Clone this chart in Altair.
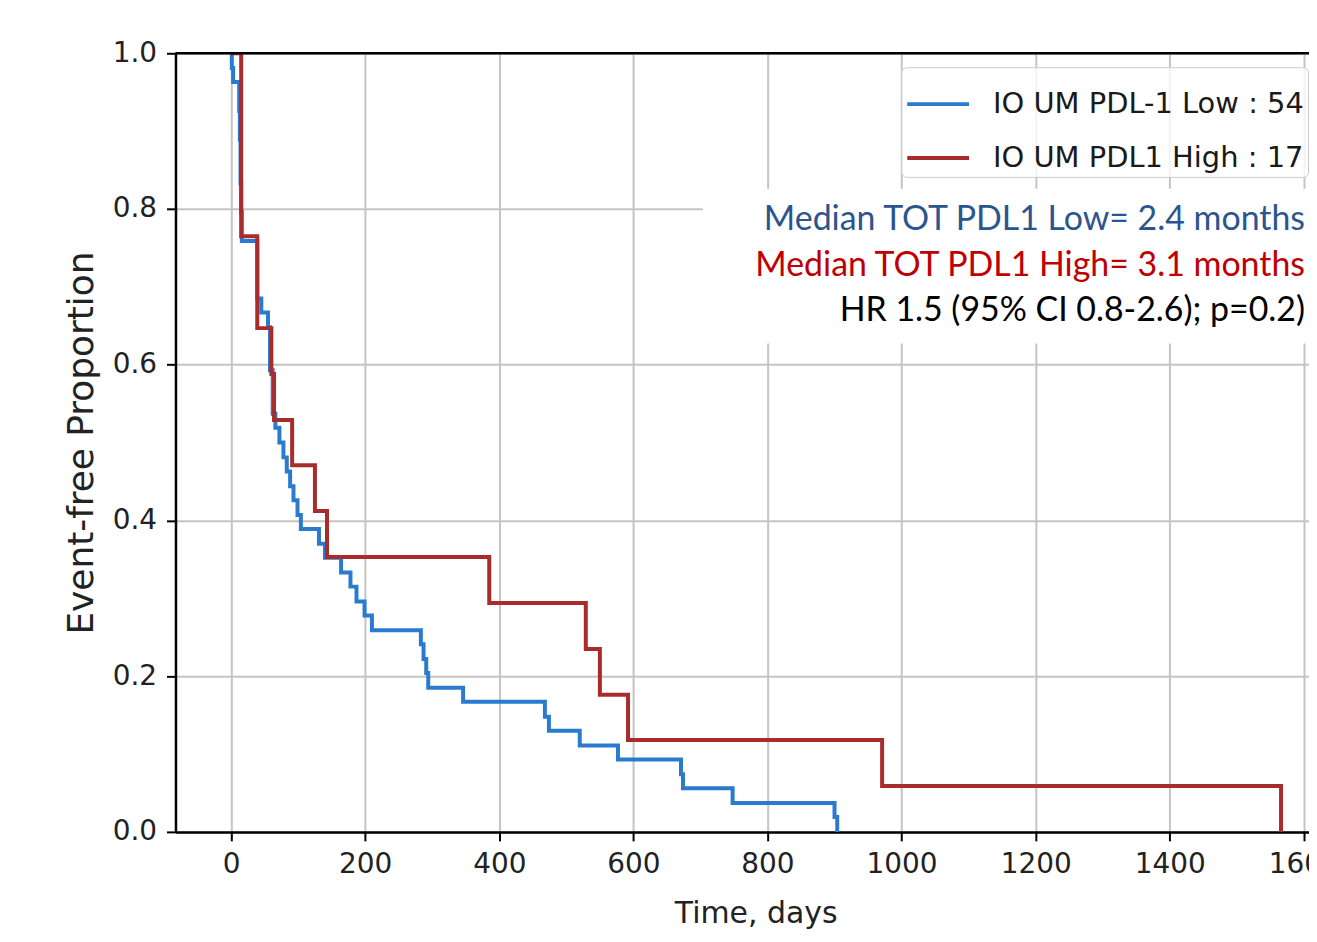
import altair as alt
import pandas as pd

LOW = "IO UM PDL-1 Low : 54"
HIGH = "IO UM PDL1 High : 17"

low_days = [0, 1, 3, 12, 13, 14, 15, 16, 39, 45, 55, 58, 62, 66, 72, 78, 83, 88, 93, 99, 104,
            131, 140, 164, 178, 187, 199, 210, 283, 287, 291, 294, 346, 468, 474, 520, 577,
            671, 674, 748, 900, 904]
low_surv = [1.000, 0.981, 0.963, 0.926, 0.889, 0.833, 0.796, 0.759, 0.685, 0.667, 0.648, 0.593,
            0.537, 0.519, 0.500, 0.481, 0.463, 0.444, 0.426, 0.407, 0.389, 0.370, 0.352, 0.333,
            0.315, 0.296, 0.278, 0.259, 0.241, 0.222, 0.204, 0.185, 0.167, 0.148, 0.130, 0.111,
            0.093, 0.074, 0.056, 0.037, 0.019, 0.000]

high_days = [0, 15, 39, 60, 64, 91, 125, 143, 385, 529, 550, 592, 971, 1566]
high_surv = [1.000, 0.765, 0.647, 0.588, 0.529, 0.471, 0.412, 0.353, 0.294, 0.235, 0.176,
             0.118, 0.059, 0.000]

x_ticks = [0, 200, 400, 600, 800, 1000, 1200, 1400, 1600]
y_ticks = [0.0, 0.2, 0.4, 0.6, 0.8, 1.0]

note_lines = ["Median TOT PDL1 Low= 2.4 months",
              "Median TOT PDL1 High= 3.1 months",
              "HR 1.5 (95% CI 0.8-2.6); p=0.2)"]
note_colors = ["#2c5590", "#c00000", "#000000"]
note_y = [167, 213, 259]

df = pd.concat([
    pd.DataFrame({"day": low_days, "surv": low_surv, "group": LOW}),
    pd.DataFrame({"day": high_days, "surv": high_surv, "group": HIGH}),
], ignore_index=True)

W, H = 1137, 781
xscale = alt.Scale(domain=[-83, 1607.7], nice=False, zero=False)
yscale = alt.Scale(domain=[0, 1], nice=False, zero=False)
color = alt.Color("group:N",
                  scale=alt.Scale(domain=[LOW, HIGH], range=["#2a7bcf", "#a82c2c"]),
                  legend=alt.Legend(title=None))

x_enc = alt.X("day:Q", scale=xscale,
              axis=alt.Axis(values=x_ticks, format="d", title="Time, days",
                            labelPadding=10, titleFontSize=30, titlePadding=20, titleX=582))
y_enc = alt.Y("surv:Q", scale=yscale,
              axis=alt.Axis(values=y_ticks, format=".1f", title="Event-free Proportion",
                            labelPadding=10, titleFontSize=36, titlePadding=12))

base = alt.Chart(df)
low_line = base.transform_filter(alt.datum.group == LOW).mark_line(
    interpolate="step-after", strokeWidth=4, clip=True).encode(x=x_enc, y=y_enc, color=color)
high_line = base.transform_filter(alt.datum.group == HIGH).mark_line(
    interpolate="step-after", strokeWidth=4, clip=True).encode(x=x_enc, y=y_enc, color=color)

one = pd.DataFrame({"k": [1]})
top_rule = alt.Chart(one).mark_rule(color="black", strokeWidth=2.5).encode(
    y=alt.value(0), x=alt.value(0), x2=alt.value(W))

box = alt.Chart(one).mark_rect(fill="white").encode(
    x=alt.value(529), x2=alt.value(W + 20), y=alt.value(136), y2=alt.value(291))

texts = []
for line, col, yy in zip(note_lines, note_colors, note_y):
    texts.append(
        alt.Chart(pd.DataFrame({"t": [line]})).mark_text(
            align="right", baseline="middle", font="Lato", fontSize=34, color=col
        ).encode(x=alt.value(1133), y=alt.value(yy), text="t:N")
    )

chart = alt.layer(low_line, high_line, box, *texts, top_rule).properties(
    width=W, height=H,
    autosize=alt.AutoSizeParams(type="none"),
    padding={"left": 168, "top": 44, "right": 0, "bottom": 99},
).configure_view(stroke=None).configure_axis(
    domainColor="black", domainWidth=2.5, tickColor="black", tickWidth=2, tickSize=9,
    labelFont="DejaVu Sans", labelFontSize=28, labelColor="#222222",
    gridColor="#c4c4c4", gridWidth=2,
    titleFont="DejaVu Sans", titleFontWeight="normal", titleColor="#222222",
).configure_legend(
    orient="none", legendX=728, legendY=14, padding=4,
    fillColor="rgba(255,255,255,0.8)", strokeColor="#cccccc", cornerRadius=5,
    labelFont="DejaVu Sans", labelFontSize=29, labelColor="#1a1a1a", labelLimit=1000,
    symbolType="stroke", symbolSize=3844, symbolStrokeWidth=4, labelOffset=22, rowPadding=6,
)

chart.save("out.html", embed_options={"renderer": "svg", "actions": False})
